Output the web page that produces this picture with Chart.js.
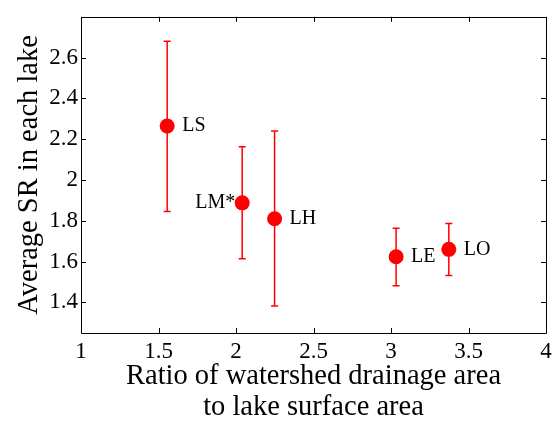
<!DOCTYPE html>
<html>
<head>
<meta charset="utf-8">
<script src="https://cdn.jsdelivr.net/npm/chart.js@4/dist/chart.umd.min.js"></script>
<style>
  html, body { margin: 0; padding: 0; background: #fff; }
  #chart { display: block; }
</style>
</head>
<body>
<canvas id="chart" width="558" height="427"></canvas>
<script>
// ---- data ----
const lakeNames = ['LS', 'LM*', 'LH', 'LE', 'LO'];
const ratioValues = [1.556, 2.04, 2.249, 3.033, 3.373];
const srMeans = [2.265, 1.888, 1.81, 1.624, 1.66];
const srLower = [1.845, 1.614, 1.382, 1.482, 1.532];
const srUpper = [2.68, 2.163, 2.24, 1.763, 1.787];
const labelSide = ['right', 'left', 'right', 'right', 'right'];
const xTicks = [1, 1.5, 2, 2.5, 3, 3.5, 4];
const yTicks = [1.4, 1.6, 1.8, 2, 2.2, 2.4, 2.6];

const SERIF = '"Liberation Serif", "DejaVu Serif", serif';
const RED = '#ff0000';

// error bars drawn through the chart scales
const errorBars = {
  id: 'errorBars',
  beforeDatasetsDraw(chart) {
    const { ctx, scales: { x, y } } = chart;
    ctx.save();
    ctx.strokeStyle = RED;
    ctx.lineWidth = 1.5;
    ratioValues.forEach((v, i) => {
      const px = x.getPixelForValue(v);
      const top = y.getPixelForValue(srUpper[i]);
      const bot = y.getPixelForValue(srLower[i]);
      ctx.beginPath();
      ctx.moveTo(px, top); ctx.lineTo(px, bot);
      ctx.moveTo(px - 3.5, top); ctx.lineTo(px + 3.5, top);
      ctx.moveTo(px - 3.5, bot); ctx.lineTo(px + 3.5, bot);
      ctx.stroke();
    });
    ctx.restore();
  },
  afterDatasetsDraw(chart) {
    const { ctx, scales: { x, y } } = chart;
    ctx.save();
    ctx.fillStyle = '#000';
    ctx.font = '20px ' + SERIF;
    ctx.textBaseline = 'middle';
    lakeNames.forEach((name, i) => {
      const px = x.getPixelForValue(ratioValues[i]);
      const py = y.getPixelForValue(srMeans[i]);
      if (labelSide[i] === 'left') {
        ctx.textAlign = 'right';
        ctx.fillText(name, px - 7, py);
      } else {
        ctx.textAlign = 'left';
        ctx.fillText(name, px + 15, py);
      }
    });
    ctx.restore();
  }
};

// matlab style box with inward ticks on all sides
const boxTicks = {
  id: 'boxTicks',
  afterDraw(chart) {
    const { ctx, chartArea: a, scales: { x, y } } = chart;
    const len = 5;
    ctx.save();
    ctx.strokeStyle = '#000';
    ctx.lineWidth = 1;
    ctx.beginPath();
    ctx.rect(Math.round(a.left) + 0.5, Math.round(a.top) + 0.5,
      Math.round(a.right - a.left), Math.round(a.bottom - a.top));
    xTicks.forEach(v => {
      const px = Math.round(x.getPixelForValue(v)) + 0.5;
      ctx.moveTo(px, a.bottom); ctx.lineTo(px, a.bottom - len);
      ctx.moveTo(px, a.top); ctx.lineTo(px, a.top + len);
    });
    yTicks.forEach(v => {
      const py = Math.round(y.getPixelForValue(v)) + 0.5;
      ctx.moveTo(a.left, py); ctx.lineTo(a.left + len, py);
      ctx.moveTo(a.right, py); ctx.lineTo(a.right - len, py);
    });
    ctx.stroke();
    ctx.restore();
  }
};

new Chart(document.getElementById('chart'), {
  type: 'scatter',
  data: {
    datasets: [{
      label: 'Average SR',
      data: ratioValues.map((v, i) => ({ x: v, y: srMeans[i] })),
      backgroundColor: RED,
      borderWidth: 0,
      pointRadius: 7.5,
      pointHoverRadius: 7.5
    }]
  },
  options: {
    responsive: false,
    animation: false,
    layout: { padding: { top: 6, right: 12, left: 0, bottom: 0 } },
    plugins: { legend: { display: false }, tooltip: { enabled: false } },
    scales: {
      x: {
        type: 'linear',
        min: 1,
        max: 4,
        afterBuildTicks: s => { s.ticks = xTicks.map(v => ({ value: v })); },
        afterFit: s => { s.height = 94; },
        grid: { display: false, drawTicks: false },
        border: { display: false },
        ticks: {
          color: '#000',
          padding: 5,
          maxRotation: 0,
          font: { family: SERIF, size: 23 },
          callback: v => String(v)
        },
        title: {
          display: true,
          text: ['Ratio of watershed drainage area', 'to lake surface area'],
          color: '#000',
          font: { family: SERIF, size: 28.5, lineHeight: 1.09 },
          padding: { top: 0, bottom: 4 }
        }
      },
      y: {
        type: 'linear',
        min: 1.25,
        max: 2.8,
        afterBuildTicks: s => { s.ticks = yTicks.map(v => ({ value: v })); },
        afterFit: s => { s.width = 81; },
        grid: { display: false, drawTicks: false },
        border: { display: false },
        ticks: {
          color: '#000',
          padding: 3,
          font: { family: SERIF, size: 23 },
          callback: v => String(v)
        },
        title: {
          display: true,
          text: 'Average SR in each lake',
          color: '#000',
          font: { family: SERIF, size: 28.5, lineHeight: 1.2 },
          padding: { top: 12, bottom: 0 }
        }
      }
    }
  },
  plugins: [errorBars, boxTicks]
});
</script>
</body>
</html>
